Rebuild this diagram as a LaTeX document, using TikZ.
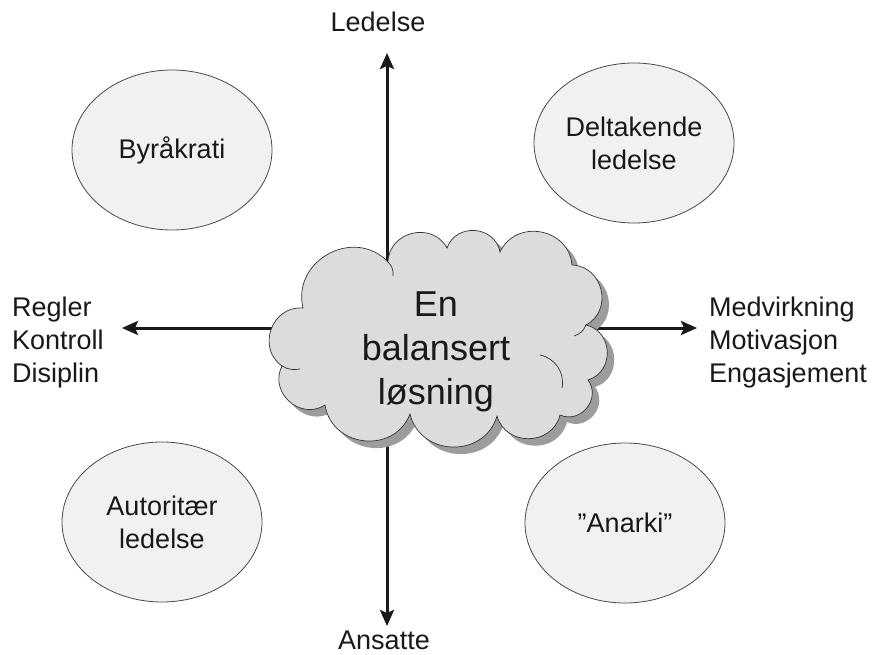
\documentclass[tikz,border=0pt]{standalone}
\usepackage{fontspec}
\setmainfont{Liberation Sans}
\usetikzlibrary{arrows.meta,shapes.geometric}
\definecolor{cloudfill}{HTML}{DCDCDC}
\definecolor{cloudshadow}{HTML}{9C9C9C}
\definecolor{ellfill}{HTML}{F1F1F1}
\definecolor{ellline}{HTML}{4A4A4A}
\begin{document}
\begin{tikzpicture}[x=1pt,y=-1pt,
  axis/.style={line width=3pt, draw=black!90, -{Stealth[length=16pt,width=14pt,inset=3pt]}},
  lbl/.style={font=\fontsize{27}{33}\selectfont, inner sep=0pt, text=black!90},
  ell/.style={ellipse, draw=ellline, line width=0.8pt, fill=ellfill, minimum width=200pt, minimum height=160pt, align=center, font=\fontsize{27}{33}\selectfont, text=black!90, inner sep=0pt},
  cl/.style={bend left=75, looseness=1.3},
  cloudline/.style={draw=black!80, line width=0.7pt}]
\useasboundingbox (0,0) rectangle (873,655);
\fill[white] (0,0) rectangle (873,655);

% axes
\coordinate (o) at (387,328);
\coordinate (ntip) at (387,53);
\coordinate (stip) at (387,626);
\coordinate (wtip) at (122,328);
\coordinate (etip) at (697,328);
\draw[axis] (o) -- (ntip);
\draw[axis] (o) -- (stip);
\draw[axis] (o) -- (wtip);
\draw[axis] (o) -- (etip);

% ellipses
\node[ell] (byr) at (172,150) {Byråkrati};
\node[ell] (delt) at (634,143) {Deltakende\\ledelse};
\node[ell] (aut) at (162,522) {Autoritær\\ledelse};
\node[ell] (anarki) at (625,523) {”Anarki”};

% cloud
\def\cloudpath{(303,308) to[cl] (388,262) to[cl] (447,248) to[cl] (500,252) to[cl] (572,265) to[cl] (586,325) to[cl] (588,380) to[cl] (560,415) to[cl] (497,416) to[cl] (410,414) to[cl] (325,405) to[cl] (282,366) to[cl] (303,308) -- cycle}
\fill[cloudshadow, shift={(7,7)}] \cloudpath;
\path[cloudline, fill=cloudfill] \cloudpath;
\draw[cloudline] (540,355) to[bend left=45] (562,388);
\draw[cloudline] (388,262) to[bend left=25] (393,276);
\draw[cloudline] (586,325) to[bend left=25] (574,336);
\draw[cloudline] (282,366) to[bend right=20] (300,369);
\node[font=\fontsize{36}{44}\selectfont, align=center, inner sep=0pt, text=black!90] (ctext) at (436,352) {En\\balansert\\løsning};

% labels
\node[lbl, anchor=base] (led) at (378,32) {Ledelse};
\node[lbl, anchor=base] (ans) at (384,649) {Ansatte};
\node[lbl, anchor=north west, align=left] (leftlbl) at (12,297) {Regler\\Kontroll\\Disiplin};
\node[lbl, anchor=north west, align=left] (rightlbl) at (709,297) {Medvirkning\\Motivasjon\\Engasjement};
\end{tikzpicture}
\end{document}
